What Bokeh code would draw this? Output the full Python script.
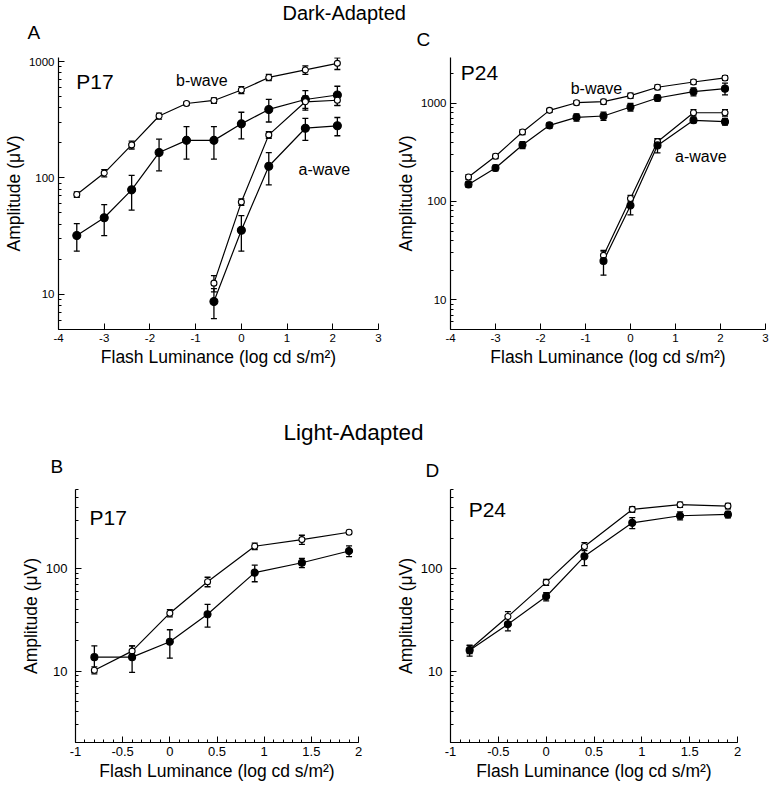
from bokeh.plotting import figure
from bokeh.models import (Range1d, Label, Whisker, ColumnDataSource, TeeHead,
                          FixedTicker, CustomJSTickFormatter)
from bokeh.layouts import column, row
from bokeh.embed import file_html
from bokeh.resources import INLINE

FONT = "Liberation Sans"

# ---------------- Data ----------------
# Panel A: P17, dark-adapted
a_x_b = [-3.6, -3.0, -2.4, -1.8, -1.2, -0.6, 0.0, 0.6, 1.4, 2.1]
a_bwave_open = [72, 110, 192, 340, 435, 462, 568, 728, 845, 962]
a_bwave_open_err = [4, 8, 15, 20, 15, 25, 40, 45, 70, 110]
a_bwave_filled = [32, 45.5, 79, 165, 210, 210, 291, 387, 471, 515]
a_bwave_filled_err = [8.5, 13.5, 26, 50, 65, 65, 75, 85, 90, 97]
a_x_a = [-0.6, 0.0, 0.6, 1.4, 2.1]
a_awave_open = [12.5, 62, 234, 450, 464]
a_awave_open_err = [2, 4, 15, 55, 45]
a_awave_filled = [8.7, 35.5, 126, 267, 280]
a_awave_filled_err = [2.5, 12, 39, 57, 50]

# Panel C: P24, dark-adapted
c_x_b = [-3.6, -3.0, -2.4, -1.8, -1.2, -0.6, 0.0, 0.6, 1.4, 2.1]
c_bwave_open = [177, 288, 507, 842, 1007, 1031, 1187, 1445, 1636, 1798]
c_bwave_open_err = [10, 15, 30, 40, 50, 60, 70, 80, 90, 100]
c_bwave_filled = [149, 219, 374, 593, 715, 738, 910, 1124, 1304, 1399]
c_bwave_filled_err = [10, 15, 30, 40, 60, 70, 80, 80, 120, 190]
c_x_a = [-0.6, 0.0, 0.6, 1.4, 2.1]
c_awave_open = [28.3, 107, 404, 796, 796]
c_awave_open_err = [3, 8, 30, 60, 60]
c_awave_filled = [24.8, 91, 371, 667, 646]
c_awave_filled_err = [7, 18, 60, 40, 50]

# Panel B: P17, light-adapted
b_x = [-0.8, -0.4, 0.0, 0.4, 0.9, 1.4, 1.9]
b_open = [10.2, 15.7, 36.9, 75, 167, 194, 229]
b_open_err = [0.8, 2, 3, 8, 12, 20, 10]
b_filled = [13.7, 13.7, 19.4, 36, 92, 115, 150]
b_filled_err = [4, 4, 6, 9, 17, 12, 18]

# Panel D: P24, light-adapted
d_x = [-0.8, -0.4, 0.0, 0.4, 0.9, 1.4, 1.9]
d_open = [16.3, 34.2, 74, 166, 383, 426, 413]
d_open_err = [1.5, 4, 5, 15, 25, 25, 25]
d_filled = [16, 28.8, 53.8, 133, 283, 332, 342]
d_filled_err = [2, 4, 5, 25, 35, 30, 25]

dark_x_ticks = [-4, -3, -2, -1, 0, 1, 2, 3]
light_x_ticks = [-1, -0.5, 0, 0.5, 1, 1.5, 2]
light_x_minor = [round(-1 + 0.1 * i, 1) for i in range(31)]
y_major = [1, 10, 100, 1000, 10000]
y_minor = [m * d for d in (1, 10, 100, 1000) for m in range(2, 10)]

X_LABEL = "Flash Luminance (log cd s/m\u00b2)"
Y_LABEL = "Amplitude (\u03bcV)"

PAGE_W = 772
LEFT_W = 392
RIGHT_W = PAGE_W - LEFT_W


def make_panel(xr, yr, xticks, xminor, w, h, bl, br, bt, bb, tick_size, label_standoff):
    p = figure(width=w, height=h, min_border_left=bl, min_border_right=br,
               min_border_top=bt, min_border_bottom=bb, y_axis_type="log",
               x_range=Range1d(*xr), y_range=Range1d(*yr),
               output_backend="svg", toolbar_location=None)
    p.outline_line_color = None
    p.grid.visible = False
    p.background_fill_color = "white"
    p.border_fill_color = "white"
    p.xaxis.ticker = FixedTicker(ticks=xticks, minor_ticks=xminor)
    p.yaxis.ticker = FixedTicker(ticks=y_major, minor_ticks=y_minor)
    p.xaxis.formatter = CustomJSTickFormatter(code="return tick.toString()")
    p.yaxis.formatter = CustomJSTickFormatter(code="return tick.toString()")
    for ax in (p.xaxis, p.yaxis):
        ax.axis_line_color = "black"
        ax.axis_line_width = 1.2
        ax.major_tick_in = 6
        ax.major_tick_out = 0
        ax.minor_tick_in = 3
        ax.minor_tick_out = 0
        ax.major_tick_line_color = "black"
        ax.minor_tick_line_color = "black"
        ax.major_label_text_font = FONT
        ax.major_label_text_font_size = tick_size
        ax.major_label_text_color = "black"
        ax.axis_label_text_font = FONT
        ax.axis_label_text_font_size = "17.5px"
        ax.axis_label_text_font_style = "normal"
        ax.axis_label_text_color = "black"
        ax.major_label_standoff = 4
        ax.axis_label_standoff = 2
    p.yaxis.major_label_standoff = label_standoff
    p.xaxis.axis_label = X_LABEL
    p.yaxis.axis_label = Y_LABEL
    return p


def add_series(p, x, y, err, filled, size):
    p.line(x, y, line_color="black", line_width=1.2)
    src = ColumnDataSource(dict(x=x, upper=[v + e for v, e in zip(y, err)],
                                lower=[v - e for v, e in zip(y, err)]))
    w = Whisker(source=src, base="x", upper="upper", lower="lower",
                line_color="black", line_width=1.3,
                upper_head=TeeHead(size=6, line_color="black", line_width=1.3),
                lower_head=TeeHead(size=6, line_color="black", line_width=1.3))
    p.add_layout(w)
    return (x, y, filled, size)


def add_markers(p, specs):
    for x, y, filled, size in specs:
        p.scatter(x, y, marker="circle", size=size,
                  fill_color="black" if filled else "white",
                  line_color="black", line_width=1.1, level="overlay")


def text_label(p, x, y, txt, size):
    p.add_layout(Label(x=x, y=y, text=txt, text_font=FONT, text_font_size=size,
                       text_color="black", text_baseline="alphabetic", text_align="left"))


def strip(height, texts):
    """A blank canvas (pixel coordinates, y downwards) holding headings and panel letters."""
    s = figure(width=PAGE_W, height=height, x_range=Range1d(0, PAGE_W),
               y_range=Range1d(height, 0), min_border=0, x_axis_location=None,
               y_axis_location=None, output_backend="svg", toolbar_location=None)
    s.outline_line_color = None
    s.grid.visible = False
    for x, y, txt, size in texts:
        text_label(s, x, y, txt, size)
    return s


# ---------------- Headings / panel letters ----------------
strip1 = strip(57, [(282, 12, "Dark-Adapted", "20px"),
                    (27, 32, "A", "19px"),
                    (416, 39, "C", "19px")])
strip2 = strip(89, [(283, 32, "Light-Adapted", "22.5px"),
                    (50, 66, "B", "19px"),
                    (425, 70, "D", "19px")])

# ---------------- Panel A ----------------
pA = make_panel((-4, 3), (5, 1080), dark_x_ticks, [], LEFT_W, 343, 54, 14, 0, 68, "11.5px", 4)
specs = [
    add_series(pA, a_x_b, a_bwave_open, a_bwave_open_err, False, 6),
    add_series(pA, a_x_b, a_bwave_filled, a_bwave_filled_err, True, 8),
    add_series(pA, a_x_a, a_awave_open, a_awave_open_err, False, 6),
    add_series(pA, a_x_a, a_awave_filled, a_awave_filled_err, True, 8),
]
add_markers(pA, specs)
text_label(pA, -3.61, 673, "P17", "21px")
text_label(pA, -1.43, 685, "b-wave", "16px")
text_label(pA, 1.25, 119, "a-wave", "16px")

# ---------------- Panel C ----------------
pC = make_panel((-4, 3), (5, 2900), dark_x_ticks, [], RIGHT_W, 343, 55, 7, 0, 71, "11.5px", 4)
specs = [
    add_series(pC, c_x_b, c_bwave_open, c_bwave_open_err, False, 6),
    add_series(pC, c_x_b, c_bwave_filled, c_bwave_filled_err, True, 7),
    add_series(pC, c_x_a, c_awave_open, c_awave_open_err, False, 6),
    add_series(pC, c_x_a, c_awave_filled, c_awave_filled_err, True, 7),
]
add_markers(pC, specs)
text_label(pC, -3.77, 2035, "P24", "21px")
text_label(pC, -1.33, 1412, "b-wave", "16px")
text_label(pC, 0.99, 288, "a-wave", "16px")

# ---------------- Panel B ----------------
pB = make_panel((-1, 2), (2, 600), light_x_ticks, light_x_minor, LEFT_W, 295, 75, 34, 0, 42, "13px", 8)
specs = [
    add_series(pB, b_x, b_open, b_open_err, False, 6),
    add_series(pB, b_x, b_filled, b_filled_err, True, 7),
]
add_markers(pB, specs)
text_label(pB, -0.852, 317, "P17", "21px")

# ---------------- Panel D ----------------
pD = make_panel((-1, 2), (2, 600), light_x_ticks, light_x_minor, RIGHT_W, 295, 58, 35, 0, 42, "13px", 8)
specs = [
    add_series(pD, d_x, d_open, d_open_err, False, 6),
    add_series(pD, d_x, d_filled, d_filled_err, True, 7),
]
add_markers(pD, specs)
text_label(pD, -0.81, 383, "P24", "21px")

layout = column(strip1, row(pA, pC, spacing=0), strip2, row(pB, pD, spacing=0), spacing=0)

open("out.html", "w").write(file_html(layout, INLINE))
